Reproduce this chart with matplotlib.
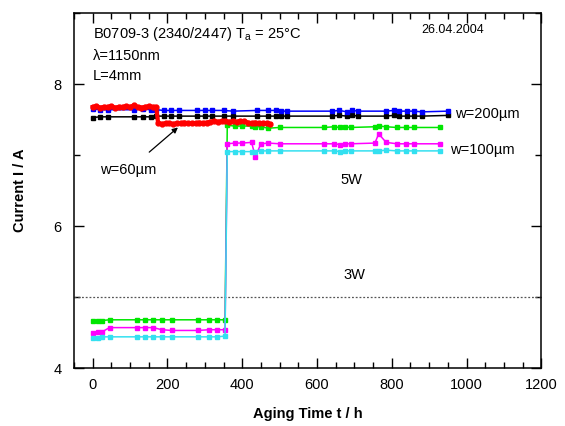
import matplotlib
matplotlib.use('Agg')
import matplotlib.pyplot as plt
from matplotlib.ticker import MultipleLocator

plt.rcParams['font.family'] = ['Liberation Sans', 'DejaVu Sans']

# w=200um (blue, black)
t_200 = [0, 20, 40, 110, 135, 155, 170, 190, 210, 230, 280, 300, 320, 350, 375, 440,
         470, 490, 505, 520, 640, 660, 680, 695, 710, 785, 805, 820, 840, 860, 880, 950]
blue = [7.65, 7.64, 7.64, 7.64, 7.65, 7.64, 7.64, 7.63, 7.63, 7.63, 7.63, 7.63, 7.63, 7.63, 7.62, 7.63,
        7.63, 7.63, 7.62, 7.62, 7.62, 7.63, 7.61, 7.63, 7.62, 7.62, 7.63, 7.62, 7.62, 7.62, 7.61, 7.62]
black = [7.53, 7.54, 7.54, 7.54, 7.54, 7.54, 7.55, 7.55, 7.55, 7.55, 7.55, 7.55, 7.55, 7.55, 7.55, 7.55,
         7.55, 7.55, 7.55, 7.55, 7.55, 7.56, 7.55, 7.56, 7.55, 7.55, 7.56, 7.55, 7.55, 7.55, 7.55, 7.56]

# w=60um (red)
t_red = [0, 10, 20, 30, 40, 50, 60, 70, 80, 90, 100, 110, 120, 130, 140, 150, 160, 170,
         175, 185, 195, 205, 215, 225, 235, 245, 255, 265, 275, 285, 295, 305, 315, 325,
         335, 345, 355, 365, 375, 385, 395, 405, 415, 425, 435, 445, 455, 465, 475]
red = [7.68, 7.69, 7.67, 7.68, 7.68, 7.69, 7.67, 7.68, 7.68, 7.69, 7.68, 7.70, 7.68, 7.67, 7.68, 7.69, 7.68, 7.68,
       7.45, 7.44, 7.45, 7.45, 7.44, 7.45, 7.45, 7.46, 7.45, 7.45, 7.45, 7.46, 7.45, 7.46, 7.47, 7.48,
       7.47, 7.48, 7.48, 7.47, 7.48, 7.47, 7.48, 7.48, 7.46, 7.45, 7.46, 7.45, 7.45, 7.45, 7.44]

# w=100um (green, magenta, cyan): 3W phase then 5W phase
t_100 = [0, 15, 25, 45, 118, 140, 162, 185, 212, 283, 310, 332, 354,
         360, 380, 400, 425, 435, 450, 470, 500, 620, 645, 662, 676, 690, 755, 765, 785, 814, 837, 860, 930]
green = [4.67, 4.67, 4.67, 4.68, 4.68, 4.68, 4.68, 4.68, 4.68, 4.68, 4.68, 4.68, 4.68,
         7.42, 7.41, 7.41, 7.41, 7.40, 7.40, 7.38, 7.39, 7.39, 7.40, 7.39, 7.40, 7.39, 7.40, 7.41, 7.40, 7.39, 7.39, 7.39, 7.39]
magenta = [4.50, 4.51, 4.51, 4.57, 4.57, 4.57, 4.57, 4.54, 4.53, 4.53, 4.54, 4.54, 4.54,
           7.16, 7.17, 7.17, 7.18, 6.98, 7.16, 7.17, 7.16, 7.16, 7.16, 7.15, 7.16, 7.16, 7.17, 7.30, 7.18, 7.16, 7.16, 7.16, 7.16]
cyan = [4.43, 4.43, 4.44, 4.44, 4.44, 4.44, 4.44, 4.44, 4.44, 4.44, 4.44, 4.44, 4.45,
        7.05, 7.05, 7.05, 7.05, 7.05, 7.06, 7.06, 7.06, 7.06, 7.06, 7.05, 7.06, 7.06, 7.06, 7.06, 7.07, 7.06, 7.06, 7.06, 7.06]

fig = plt.figure(figsize=(5.65, 4.26), dpi=100)
ax = fig.add_axes([0.131, 0.136, 0.827, 0.833])

ax.axhline(5, color='#555555', lw=0.9, ls=(0, (1.5, 1.5)))

ms = 2.3
ax.plot(t_100, green, color='#00e600', marker='s', ms=ms, lw=1.1)
ax.plot(t_100, magenta, color='#ff00ff', marker='s', ms=ms, lw=1.1)
ax.plot(t_100, cyan, color='#33e0f0', marker='s', ms=ms, lw=1.1)
ax.plot(t_200, black, color='black', marker='s', ms=ms, lw=1.1)
ax.plot(t_200, blue, color='#0000ff', marker='s', ms=ms, lw=1.1)
ax.plot(t_red, red, color='#ff0000', marker='o', ms=3.5, lw=3)

ax.set_xlim(-50, 1200)
ax.set_ylim(4, 9)
ax.xaxis.set_major_locator(MultipleLocator(200))
ax.xaxis.set_minor_locator(MultipleLocator(50))
ax.yaxis.set_major_locator(MultipleLocator(2))
ax.yaxis.set_minor_locator(MultipleLocator(1))
ax.tick_params(which='both', direction='in', top=True, right=True, labelsize=10.5, width=1)
ax.tick_params(which='major', length=7)
ax.tick_params(which='minor', length=4)
ax.tick_params(axis='y', pad=9)
ax.tick_params(axis='x', pad=7)
for s in ax.spines.values():
    s.set_linewidth(1.1)

ax.set_xlabel('Aging Time t / h', fontsize=10.5, fontweight='bold', labelpad=11)
ax.set_ylabel('Current I / A', fontsize=10.5, fontweight='bold', labelpad=19)

ax.text(0, 8.70, 'B0709-3 (2340/2447) T$_\\mathregular{a}$ = 25°C', fontsize=10.5, va='center')
ax.text(0, 8.40, 'λ=1150nm', fontsize=10.5, va='center')
ax.text(0, 8.11, 'L=4mm', fontsize=10.5, va='center')
ax.text(1048, 8.76, '26.04.2004', fontsize=9, ha='right', va='center')

ax.text(968, 7.58, 'w=200µm', fontsize=10.5, va='center')
ax.text(955, 7.07, 'w=100µm', fontsize=10.5, va='center')
ax.annotate('w=60µm', xy=(228, 7.39), xytext=(20, 6.79), fontsize=10.5, va='center',
            arrowprops=dict(arrowstyle='-|>', color='black', lw=0.9, mutation_scale=8,
                            shrinkA=9, shrinkB=0))
ax.text(691, 6.65, '5W', fontsize=10.5, ha='center', va='center')
ax.text(700, 5.31, '3W', fontsize=10.5, ha='center', va='center')

fig.savefig('out.png', dpi=100)
